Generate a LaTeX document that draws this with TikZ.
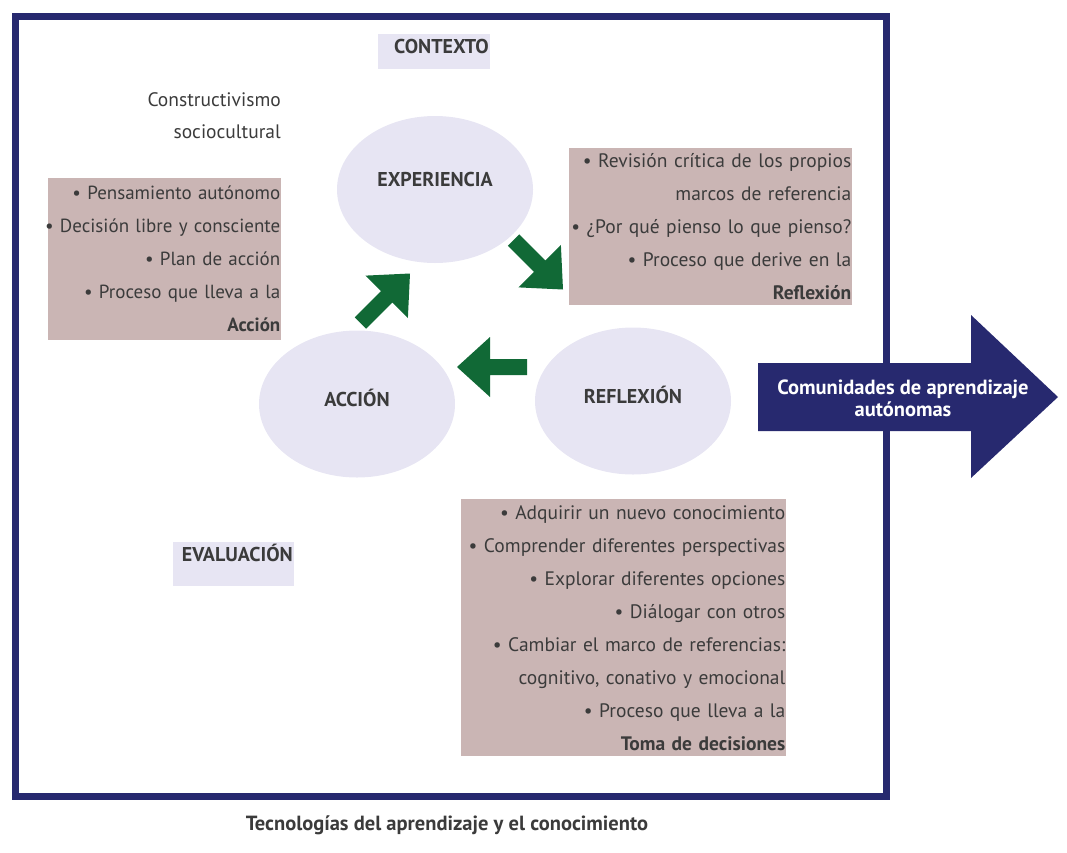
\documentclass[tikz,border=0pt]{standalone}
\usepackage{fontspec}
\setmainfont{PT Sans}
\usetikzlibrary{shapes.geometric}
\definecolor{marco}{RGB}{39,41,111}
\definecolor{rosa}{RGB}{202,181,180}
\definecolor{lila}{RGB}{231,229,243}
\definecolor{verde}{RGB}{17,105,54}
\definecolor{texto}{RGB}{59,59,59}
\hyphenpenalty=10000
\newcommand{\renglon}[1]{\makebox[\hsize][r]{#1}}
\begin{document}
\begin{tikzpicture}[x=1pt, y=-1pt,
    every node/.style={text=texto},
    caja/.style={fill=rosa, inner xsep=0.5pt, inner ysep=0pt, align=right,
      font=\fontsize{19.5}{33}\selectfont},
    etiqueta/.style={fill=lila, inner xsep=1pt, inner ysep=0pt, align=right,
      font=\bfseries\fontsize{20}{22}\selectfont},
    fase/.style={ellipse, fill=lila, minimum width=196pt, minimum height=147pt,
      inner sep=0pt, text height=14pt, text depth=10pt,
      font=\bfseries\fontsize{20}{22}\selectfont},
    flecha/.pic={\fill [verde] (0,-8) -- (37,-8) -- (37,-30) -- (70,0)
      -- (37,30) -- (37,8) -- (0,8) -- cycle;}]
  \useasboundingbox (0,0) rectangle (1067,852);
  \draw [marco, line width=7pt] (15.5,16.5) rectangle (886.7,796.7);

  \node [etiqueta, text width=110pt, text height=19pt, text depth=16pt,
    anchor=north east] (contexto) at (490,34) {CONTEXTO};
  \node [etiqueta, text width=119pt, text height=19pt, text depth=25pt,
    anchor=north east] (evaluacion) at (294,542) {EVALUACIÓN};
  \node [inner sep=0pt, align=right, anchor=north east,
    font=\fontsize{19.5}{32}\selectfont] (constructivismo) at (281,92)
    {Constructivismo\\sociocultural};

  \node [fase, text depth=21pt] (experiencia) at (435,189.5) {EXPERIENCIA};
  \node [fase] (accion) at (357,404) {ACCIÓN};
  \node [fase] (reflexion) at (633,401) {REFLEXIÓN};

  \pic [rotate=45] at (360.5,323) {flecha};
  \pic [rotate=-45] at (513.5,240) {flecha};
  \pic [rotate=180] at (527,367) {flecha};

  \node [caja, font=\fontsize{19}{33}\selectfont, text width=232pt,
    minimum height=162pt, anchor=north east]
    (lista accion) at (281,178)
    {• Pensamiento autónomo\\\renglon{• Decisión libre y consciente}\\
     • Plan de acción\\• Proceso que lleva a la\\\textbf{Acción}};
  \node [caja, text width=282pt, minimum height=157pt, anchor=north east]
    (lista reflexion) at (852,148)
    {• Revisión crítica de los propios\\marcos de referencia\\
     • ¿Por qué pienso lo que pienso?\\• Proceso que derive en la\\
     \textbf{Reflexión}};
  \node [caja, text width=324pt, minimum height=257pt, anchor=north east]
    (lista decisiones) at (786,499)
    {• Adquirir un nuevo conocimiento\\• Comprender diferentes perspectivas\\
     • Explorar diferentes opciones\\• Diálogar con otros\\
     • Cambiar el marco de referencias:\\cognitivo, conativo y emocional\\
     • Proceso que lleva a la\\\textbf{Toma de decisiones}};

  \fill [marco] (758,363) -- (971,363) -- (971,315) -- (1058,397)
    -- (971,478) -- (971,431) -- (758,431) -- cycle;
  \node [text=white, align=center, font=\bfseries\fontsize{20.5}{22}\selectfont]
    (comunidades) at (903,398) {Comunidades de aprendizaje\\autónomas};

  \node [font=\bfseries\fontsize{20.5}{22}\selectfont] (titulo) at (447,825)
    {Tecnologías del aprendizaje y el conocimiento};
\end{tikzpicture}
\end{document}
